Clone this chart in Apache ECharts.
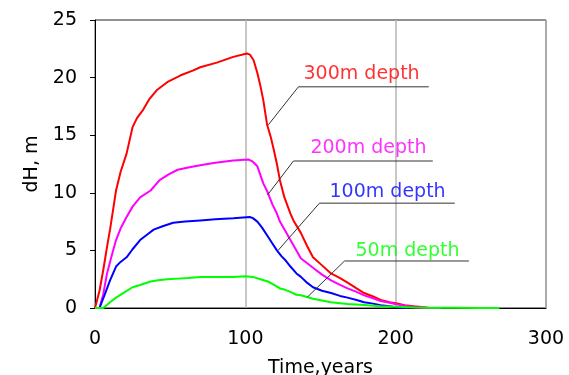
<!DOCTYPE html>
<html>
<head>
<meta charset="utf-8">
<script src="https://cdn.jsdelivr.net/npm/echarts@6/dist/echarts.min.js"></script>
<style>
html,body{margin:0;padding:0;background:#fff;}
#chart{width:569px;height:375px;}
</style>
</head>
<body>
<div id="chart"></div>
<script>
// Time (years) and dH (m) for each depth
var t300 = [0,1,3,5.5,8,10,12,14,17,21,25,28,32,36,41,48,57,65,70,81,92,101,103,105.5,108,110,112,114.5,117,119,121,123,126,130,132,137,141,145,151,157,163,168,174,179,185,190,196,201,206,212,217,222];
var v300 = [0,0,1.5,3.3,5.3,6.8,8.5,10.2,11.8,13.4,15.7,16.5,17.2,18.1,18.9,19.6,20.2,20.6,20.9,21.3,21.8,22.1,22.0,21.5,20.4,19.3,18.0,15.9,14.8,13.7,12.5,11.1,9.6,8.2,7.6,6.5,5.4,4.4,3.7,3.0,2.6,2.2,1.7,1.3,1.0,0.7,0.5,0.4,0.25,0.15,0.08,0.03];

var t200 = [0,3,5.5,8,11,14,17,21,25,30,37,43,49,55,62,70,80,92,102,105,108,112,115,118,121,123,127,130,134,137,141,145,151,157,163,168,174,179,185,190,196,201,206,212,220,230];
var v200 = [0,0,1.2,3.0,4.5,5.9,6.9,7.9,8.8,9.6,10.2,11.1,11.6,12.0,12.2,12.4,12.6,12.8,12.9,12.7,12.3,10.8,10.0,9.0,8.2,7.5,6.6,5.9,5.0,4.3,3.9,3.5,2.9,2.4,2.0,1.7,1.4,1.1,0.85,0.6,0.45,0.3,0.2,0.08,0.03,0.0];

var t100 = [0,3,6,10,14,17,21,25,30,35,39,45,52,60,70,80,92,103,105,108,111,115,118,121,124,127,130,134,137,141,145,151,157,163,168,174,179,185,190,196,201,208];
var v100 = [0,0,1.0,2.4,3.6,4.0,4.4,5.1,5.9,6.4,6.8,7.1,7.4,7.5,7.6,7.7,7.8,7.9,7.8,7.5,7.0,6.2,5.6,5.0,4.5,4.1,3.6,3.0,2.7,2.2,1.8,1.5,1.3,1.05,0.9,0.7,0.5,0.38,0.25,0.15,0.05,0];

var t50 = [0,5.5,10,14,20,25,30,37,42,48,55,62,70,80,92,100,105,110,115,120,123,126,130,134,137,141,145,151,157,163,168,179,190,201,212,225,240,255,269];
var v50 = [0,0,0.5,0.9,1.4,1.8,2.0,2.3,2.4,2.5,2.55,2.6,2.7,2.7,2.7,2.75,2.7,2.5,2.3,1.95,1.7,1.6,1.4,1.15,1.1,0.95,0.8,0.65,0.5,0.42,0.35,0.25,0.15,0.1,0.05,0.03,0.02,0.01,0.01];

var seriesNames = ['300m depth','200m depth','100m depth','50m depth'];
var seriesColors = ['#ff0000','#ff00ff','#0000ff','#00ff00'];
var seriesT = [t300, t200, t100, t50];
var seriesV = [v300, v200, v100, v50];

// annotation leader lines (data coordinates) and label anchor points
var leaderLines = [
  [[115.3,15.9],[135.3,19.2],[222,19.2]],
  [[114.7,9.8],[132,12.76],[224.7,12.76]],
  [[121.8,5.0],[149.3,9.1],[239.3,9.1]],
  [[141.3,0.95],[166,4.08],[248.7,4.08]]
];
var labelAnchors = [[138.7,20.3],[143.3,13.9],[156,10.1],[173.3,4.95]];

var xTicks = {min:0, max:300, interval:100};
var yTicks = {min:0, max:25, interval:5};

var FONT = 'DejaVu Sans';
var series = [];
seriesNames.forEach(function(name, i){
  var d = seriesT[i].map(function(t, k){ return [t, seriesV[i][k]]; });
  series.push({
    name: name, type: 'line', data: d, showSymbol: false, symbol: 'none',
    lineStyle: {color: seriesColors[i], width: 2}, z: 3, animation: false
  });
});
leaderLines.forEach(function(pts, i){
  series.push({
    type: 'line', data: pts, symbol: 'none', showSymbol: false,
    lineStyle: {color: '#333', width: 1}, z: 4, animation: false, silent: true
  });
});
labelAnchors.forEach(function(p, i){
  series.push({
    type: 'scatter', data: [p], symbolSize: 0, z: 5, animation: false, silent: true,
    label: {show: true, position: 'right', distance: 0, formatter: seriesNames[i],
      color: seriesColors[i], fontFamily: FONT, fontSize: 19}
  });
});

var chart = echarts.init(document.getElementById('chart'));
chart.setOption({
  animation: false,
  backgroundColor: '#fff',
  grid: {left: 95, top: 20, right: 23, bottom: 67, containLabel: false, outerBoundsMode: 'none',
    show: true, borderColor: '#222', borderWidth: 1, backgroundColor: 'transparent'},
  xAxis: {
    type: 'value', min: xTicks.min, max: xTicks.max, interval: xTicks.interval,
    name: 'Time,years', nameLocation: 'middle', nameGap: 51,
    nameTextStyle: {fontFamily: FONT, fontSize: 19, color: '#000'},
    axisLine: {show: true, lineStyle: {color: '#000', width: 1}},
    axisTick: {show: false},
    axisLabel: {fontFamily: FONT, fontSize: 19, color: '#000', margin: 22},
    splitLine: {show: true, lineStyle: {color: '#b4b4b4', width: 1.5}}
  },
  yAxis: {
    type: 'value', min: yTicks.min, max: yTicks.max, interval: yTicks.interval,
    name: 'dH, m', nameLocation: 'middle', nameGap: 49,
    nameTextStyle: {fontFamily: FONT, fontSize: 19, color: '#000'},
    axisLine: {show: true, lineStyle: {color: '#000', width: 1}},
    axisTick: {show: true, length: 5, inside: false, lineStyle: {color: '#000'}},
    axisLabel: {fontFamily: FONT, fontSize: 19, color: '#000', margin: 18},
    splitLine: {show: false}
  },
  series: series
});
</script>
</body>
</html>
